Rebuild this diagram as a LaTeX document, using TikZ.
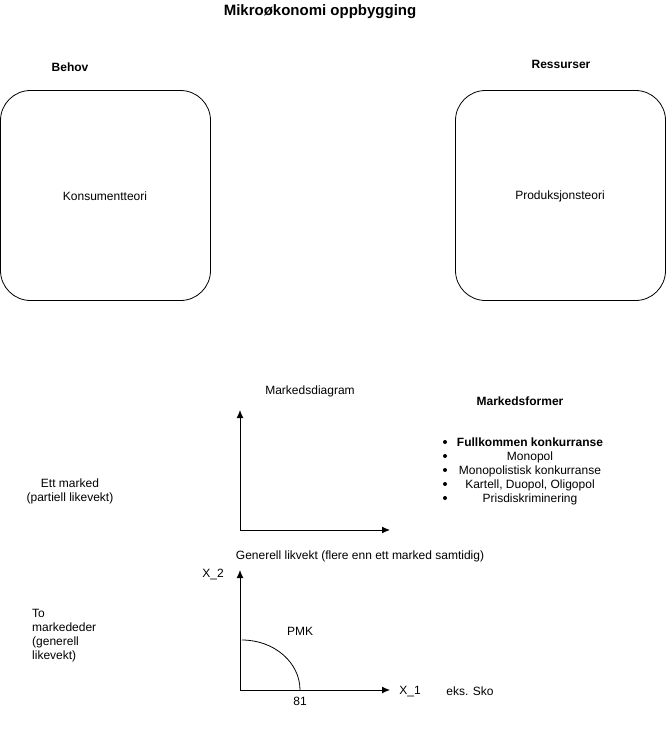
\documentclass[tikz,border=0pt]{standalone}
\usepackage{fontspec}
\setmainfont{Liberation Sans}
\usetikzlibrary{arrows.meta}
\begin{document}
\begin{tikzpicture}[x=1pt,y=-1pt,
  txt/.style={inner sep=0pt,yshift=-1.5pt,font=\fontsize{12}{14}\selectfont},
  btxt/.style={inner sep=0pt,yshift=-1pt,font=\fontsize{12}{14}\selectfont\bfseries},
  roundbox/.style={draw,line width=0.8pt,rounded corners=30pt},
  axis/.style={line width=1pt,-{Latex[length=8pt,width=7pt]}}]
\useasboundingbox (0,0) rectangle (666,741);
\node[btxt,font=\fontsize{15}{17}\selectfont\bfseries] (title) at (320,11) {Mikroøkonomi oppbygging};
\node[btxt] (behov) at (70,66) {Behov};
\node[btxt] (ress) at (561,63) {Ressurser};
\draw[roundbox] (0.5,90.5) rectangle (210.5,300.5);
\draw[roundbox] (455.5,90.5) rectangle (665.5,300.5);
\node[txt] (kons) at (105,195) {Konsumentteori};
\node[txt] (prod) at (560,195) {Produksjonsteori};
% market diagram
\coordinate (o1) at (240,530);
\coordinate (y1) at (240,410);
\coordinate (x1) at (390,530);
\draw[axis] (o1) -- (y1);
\draw[axis] (o1) -- (x1);
\node[txt] (md) at (310,390) {Markedsdiagram};
\node[btxt] (mf) at (520,400) {Markedsformer};
\node[txt,align=center] (list) at (530,470) {\textbf{Fullkommen konkurranse}\\Monopol\\Monopolistisk konkurranse\\Kartell, Duopol, Oligopol\\Prisdiskriminering};
\foreach \yy in {442,456,470,484,498} \fill (445,\yy) circle (2pt);
\node[txt,align=center] (ett) at (70,490) {Ett marked\\(partiell likevekt)};
\node[txt] (gen) at (360,555) {Generell likvekt (flere enn ett marked samtidig)};
% general equilibrium diagram
\coordinate (o2) at (240,690);
\coordinate (y2) at (240,570);
\coordinate (x2) at (390,690);
\draw[axis] (o2) -- (y2);
\draw[axis] (o2) -- (x2);
\draw[line width=0.8pt] (242,640) arc[start angle=90,end angle=0,x radius=58,y radius=-50];
\node[txt] (x2l) at (213,573) {X\_2};
\node[txt] (x1l) at (410,690) {X\_1};
\node[txt] (sko) at (470,690) {eks. Sko};
\node[txt] (n81) at (300,700) {81};
\node[txt] (pmk) at (300,630) {PMK};
\node[txt,align=left,anchor=west] (to) at (32,634) {To\\markededer\\(generell\\likevekt)};
\end{tikzpicture}
\end{document}
